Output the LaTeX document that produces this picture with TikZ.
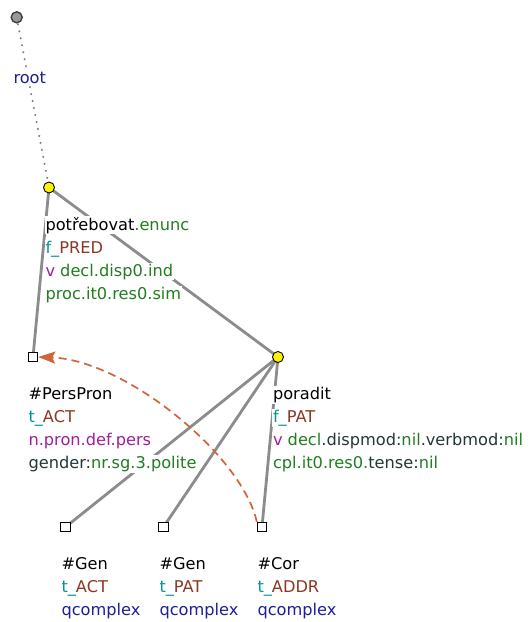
\documentclass[tikz,border=0pt]{standalone}
\usepackage{fontspec}
\setmainfont{DejaVu Sans}
\usetikzlibrary{arrows.meta}
\definecolor{cgreen}{RGB}{34,125,34}
\definecolor{cteal}{RGB}{0,150,150}
\definecolor{cbrown}{RGB}{140,55,35}
\definecolor{cpurple}{RGB}{160,30,160}
\definecolor{cslate}{RGB}{35,55,55}
\definecolor{cnavy}{RGB}{30,30,150}
\definecolor{cedge}{RGB}{140,140,140}
\definecolor{cdot}{RGB}{125,125,125}
\definecolor{carrow}{RGB}{210,100,60}
\tikzset{
  lab/.style={anchor=base west, fill=white, inner sep=0.8pt, font=\fontsize{16.2}{20}\selectfont},
  tnode/.style={circle, draw=black, fill=yellow, line width=0.9pt, minimum size=11pt, inner sep=0pt},
  rnode/.style={circle, draw=black!75, fill=black!40, line width=1.4pt, minimum size=11pt, inner sep=0pt},
  qnode/.style={rectangle, draw=black, fill=white, line width=0.9pt, minimum size=9.5pt, inner sep=0pt},
  edge/.style={draw=cedge, line width=2.8pt},
  rootedge/.style={draw=cdot, line width=2.2pt, line cap=round, dash pattern=on 0.1pt off 7pt},
  coref/.style={draw=carrow, line width=1.7pt, dash pattern=on 8pt off 5pt,
    -{Stealth[length=17pt,width=12pt,inset=3pt,sep=0pt]}}
}
\newcommand{\gr}[1]{\textcolor{cgreen}{#1}}
\newcommand{\dk}[1]{\textcolor{cslate}{#1}}
\begin{document}
\begin{tikzpicture}[x=1pt,y=-1pt]
\useasboundingbox[fill=white] (0,0) rectangle (531,622);
% markers (coordinates)
\coordinate (root) at (16.7,17.3);
\coordinate (potr) at (49,187.5);
\coordinate (pers) at (33,357);
\coordinate (pora) at (278,357);
\coordinate (gen1) at (65.5,527);
\coordinate (gen2) at (163.5,527);
\coordinate (cor) at (262,527);
% edges
\draw[rootedge] (root) -- (potr);
\draw[edge] (potr) -- (pers);
\draw[edge] (potr) -- (pora);
\draw[edge] (pora) -- (gen1);
\draw[edge] (pora) -- (gen2);
\draw[edge] (pora) -- (cor);
% labels
\node[lab, text=cnavy] (rootl) at (12.5,83) {root};
\node[lab] (potl1) at (44.5,230) {potřebovat\gr{.enunc}};
\node[lab] (potl2) at (44.5,253) {\textcolor{cteal}{f\_}\textcolor{cbrown}{PRED}};
\node[lab] (potl3) at (44.5,276) {\textcolor{cpurple}{v} \gr{decl.disp0.ind}};
\node[lab] (potl4) at (44.5,299) {\gr{proc.it0.res0.sim}};
\node[lab] (perl1) at (27.5,399.5) {\#PersPron};
\node[lab] (perl2) at (27.5,422.5) {\textcolor{cteal}{t\_}\textcolor{cbrown}{ACT}};
\node[lab] (perl3) at (27.5,445.5) {\textcolor{cpurple}{n.pron.def.pers}};
\node[lab] (perl4) at (27.5,468.5) {\dk{gender:}\gr{nr.sg.3.polite}};
\node[lab] (poral1) at (272,399.5) {poradit};
\node[lab] (poral2) at (272,422.5) {\textcolor{cteal}{f\_}\textcolor{cbrown}{PAT}};
\node[lab] (poral3) at (272,445.5) {\textcolor{cpurple}{v} \gr{decl}\dk{.dispmod:}\gr{nil}\dk{.verbmod:}\gr{nil}};
\node[lab] (poral4) at (272,468.5) {\gr{cpl.it0.res0.}\dk{tense:}\gr{nil}};
\node[lab] (g1l1) at (60.5,569) {\#Gen};
\node[lab] (g1l2) at (60.5,592) {\textcolor{cteal}{t\_}\textcolor{cbrown}{ACT}};
\node[lab] (g1l3) at (60.5,615) {\textcolor{cnavy}{qcomplex}};
\node[lab] (g2l1) at (158.5,569) {\#Gen};
\node[lab] (g2l2) at (158.5,592) {\textcolor{cteal}{t\_}\textcolor{cbrown}{PAT}};
\node[lab] (g2l3) at (158.5,615) {\textcolor{cnavy}{qcomplex}};
\node[lab] (corl1) at (256.5,569) {\#Cor};
\node[lab] (corl2) at (256.5,592) {\textcolor{cteal}{t\_}\textcolor{cbrown}{ADDR}};
\node[lab] (corl3) at (256.5,615) {\textcolor{cnavy}{qcomplex}};
% node markers
\node[rnode] (rootn) at (root) {};
\node[tnode] (potrn) at (potr) {};
\node[qnode] (persn) at (pers) {};
\node[tnode] (poran) at (pora) {};
\node[qnode] (gen1n) at (gen1) {};
\node[qnode] (gen2n) at (gen2) {};
\node[qnode] (corn) at (cor) {};
% coreference arrow
\draw[coref] (corn.north west) .. controls (242,455) and (125,360) .. (persn.east);
\end{tikzpicture}
\end{document}
